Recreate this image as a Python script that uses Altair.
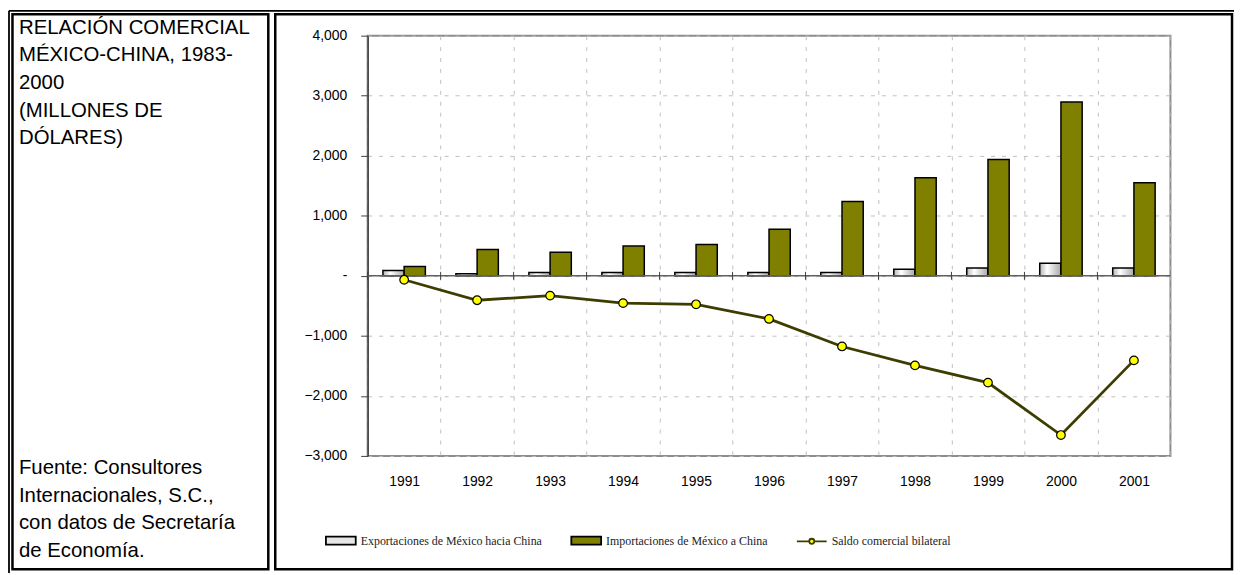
import altair as alt
import pandas as pd

# ---------------- data ----------------
YEARS = ["1991", "1992", "1993", "1994", "1995", "1996", "1997", "1998", "1999", "2000", "2001"]
EXPORTS = [88, 33, 55, 55, 55, 55, 55, 110, 132, 209, 132]
IMPORTS = [154, 440, 391, 495, 523, 776, 1238, 1634, 1937, 2894, 1552]
BALANCE = [-66, -407, -330, -455, -475, -718, -1177, -1492, -1779, -2652, -1409]
SERIES = [
    "Exportaciones de México hacia China",
    "Importaciones de México a China",
    "Saldo comercial bilateral",
]
Y_TICKS = [-3000, -2000, -1000, 0, 1000, 2000, 3000, 4000]
TITLE_LINES = ["RELACIÓN COMERCIAL", "MÉXICO-CHINA, 1983-", "2000", "(MILLONES DE", "DÓLARES)"]
SOURCE_LINES = ["Fuente: Consultores", "Internacionales, S.C.,", "con datos de Secretaría", "de Economía."]

exp_df = pd.DataFrame({"year": YEARS, "serie": SERIES[0], "value": EXPORTS})
imp_df = pd.DataFrame({"year": YEARS, "serie": SERIES[1], "value": IMPORTS})
bal_df = pd.DataFrame({"year": YEARS, "serie": SERIES[2], "value": BALANCE})
years_df = pd.DataFrame({"year": YEARS})
legend_df = pd.DataFrame({"serie": SERIES})
one = pd.DataFrame({"a": [0]})

# ---------------- styling ----------------
AXIS_FONT = "Liberation Sans"
PANEL_FONT = "Liberation Sans"
GRID = "#c0c0c0"
OLIVE = "#808000"
LINE_COL = "#3d3d00"

# plot origin in page coords = (370, 34)
OX, OY = 370, 34

x_scale = alt.Scale(paddingInner=0, paddingOuter=0)
xoff_scale = alt.Scale(domain=SERIES[:2], paddingInner=0, paddingOuter=0.72)
y_scale = alt.Scale(domain=[-3000, 4000], nice=False)

x_axis = alt.Axis(
    title=None, labelAngle=0, ticks=False, domain=False, grid=True,
    tickBand="extent", gridDash=[4, 7], gridColor=GRID,
    labelFont=AXIS_FONT, labelFontSize=14, labelColor="black", labelPadding=19,
)
y_axis = alt.Axis(
    title=None, values=Y_TICKS, grid=True, gridDash=[4, 7], gridColor=GRID,
    tickSize=7, tickColor="#404040", domainColor="#404040", domainWidth=1.5,
    labelFont=AXIS_FONT, labelFontSize=14, labelColor="black", labelPadding=14,
    labelExpr="datum.value == 0 ? '-\u00a0\u00a0\u00a0' : format(datum.value, ',')",
)

x_enc = alt.X("year:N", sort=YEARS, scale=x_scale, axis=x_axis)
y_enc = alt.Y("value:Q", scale=y_scale, axis=y_axis)

grad = alt.LinearGradient(
    gradient="linear", x1=0, x2=1, y1=0, y2=0,
    stops=[
        alt.GradientStop(offset=0, color="#b4b4b4"),
        alt.GradientStop(offset=0.35, color="#ffffff"),
        alt.GradientStop(offset=1, color="#a8a8a8"),
    ],
)

exp_bars = alt.Chart(exp_df).mark_bar(fill=grad, stroke="black", strokeWidth=1.5).encode(
    x=x_enc, xOffset=alt.XOffset("serie:N", scale=xoff_scale), y=y_enc
)
imp_bars = alt.Chart(imp_df).mark_bar(fill=OLIVE, stroke="black", strokeWidth=1.5).encode(
    x=x_enc, xOffset=alt.XOffset("serie:N", scale=xoff_scale), y=y_enc
)

zero_line = alt.Chart(one).mark_rule(color="#606060", strokeWidth=1.5).encode(y=alt.datum(0))
zero_ticks = alt.Chart(years_df).mark_rule(color="#404040", strokeWidth=1).encode(
    x=alt.X("year:N", sort=YEARS, bandPosition=0), y=alt.datum(-66), y2=alt.datum(66)
)

line = alt.Chart(bal_df).mark_line(color=LINE_COL, strokeWidth=2.8).encode(
    x=alt.X("year:N", sort=YEARS, bandPosition=0.5), y=alt.Y("value:Q")
)
points = alt.Chart(bal_df).mark_point(
    filled=True, fill="#ffff00", stroke="black", strokeWidth=1.2, size=75, shape="circle", opacity=1
).encode(x=alt.X("year:N", sort=YEARS, bandPosition=0.5), y=alt.Y("value:Q"))

RECT = "M-1,-0.27H1V0.27H-1Z"
LINEDOT = "M-1,0H-0.17M0.17,0H1M-0.17,0A0.17,0.17 0 1,0 0.17,0A0.17,0.17 0 1,0 -0.17,0Z"
leg = alt.Legend(
    title=None, orient="none", legendX=327 - OX, legendY=526 - OY, direction="horizontal",
    symbolSize=900, symbolStrokeWidth=1.8, labelFont="Liberation Serif", labelFontSize=12,
    labelColor="#222222", labelLimit=0, columnPadding=25, labelOffset=4, padding=0,
)
legend_layer = alt.Chart(legend_df).transform_filter("false").mark_point(filled=True, opacity=1).encode(
    color=alt.Color("serie:N", scale=alt.Scale(domain=SERIES, range=["#e6e6e6", OLIVE, "#ffff00"]), legend=leg),
    shape=alt.Shape("serie:N", scale=alt.Scale(domain=SERIES, range=[RECT, RECT, LINEDOT]), legend=leg),
    stroke=alt.Stroke("serie:N", scale=alt.Scale(domain=SERIES, range=["black", "black", LINE_COL]), legend=leg),
)

# ---------------- frames & side panel text ----------------
def box(x1, x2, y1, y2, w=2.5):
    return alt.Chart(one).mark_rect(fillOpacity=0, stroke="black", strokeWidth=w).encode(
        x=alt.value(x1 - OX), x2=alt.value(x2 - OX), y=alt.value(y1 - OY), y2=alt.value(y2 - OY)
    )

def hline(x1, x2, y, w=1.8):
    return alt.Chart(one).mark_rule(color="black", strokeWidth=w).encode(
        x=alt.value(x1 - OX), x2=alt.value(x2 - OX), y=alt.value(y - OY)
    )

def vline(x, y1, y2, w=1.8):
    return alt.Chart(one).mark_rule(color="black", strokeWidth=w).encode(
        x=alt.value(x - OX), y=alt.value(y1 - OY), y2=alt.value(y2 - OY)
    )

outer_top = hline(9, 1242, 9)
outer_left = vline(9, 9, 575)
left_box = box(12.5, 270, 12.5, 571)
right_box = box(277, 1240, 12.5, 571)

title_txt = alt.Chart(one).mark_text(
    align="left", baseline="alphabetic", font=PANEL_FONT, fontSize=20.5, lineHeight=27.8, color="black"
).encode(x=alt.value(19 - OX), y=alt.value(32 - OY), text=alt.value(TITLE_LINES))
source_txt = alt.Chart(one).mark_text(
    align="left", baseline="alphabetic", font=PANEL_FONT, fontSize=20.5, lineHeight=28, color="black"
).encode(x=alt.value(19 - OX), y=alt.value(475 - OY), text=alt.value(SOURCE_LINES))

chart = alt.layer(
    outer_top, outer_left, left_box, right_box, title_txt, source_txt,
    exp_bars, imp_bars, zero_line, zero_ticks, line, points, legend_layer,
).properties(
    width=808, height=423,
    autosize=alt.AutoSizeParams(type="none"),
    padding={"left": 362, "top": 26, "right": 64, "bottom": 116},
    background="white",
).configure_view(stroke="#8c8c8c", strokeWidth=2)

chart.save("out.html", embed_options={"renderer": "svg", "actions": False})
